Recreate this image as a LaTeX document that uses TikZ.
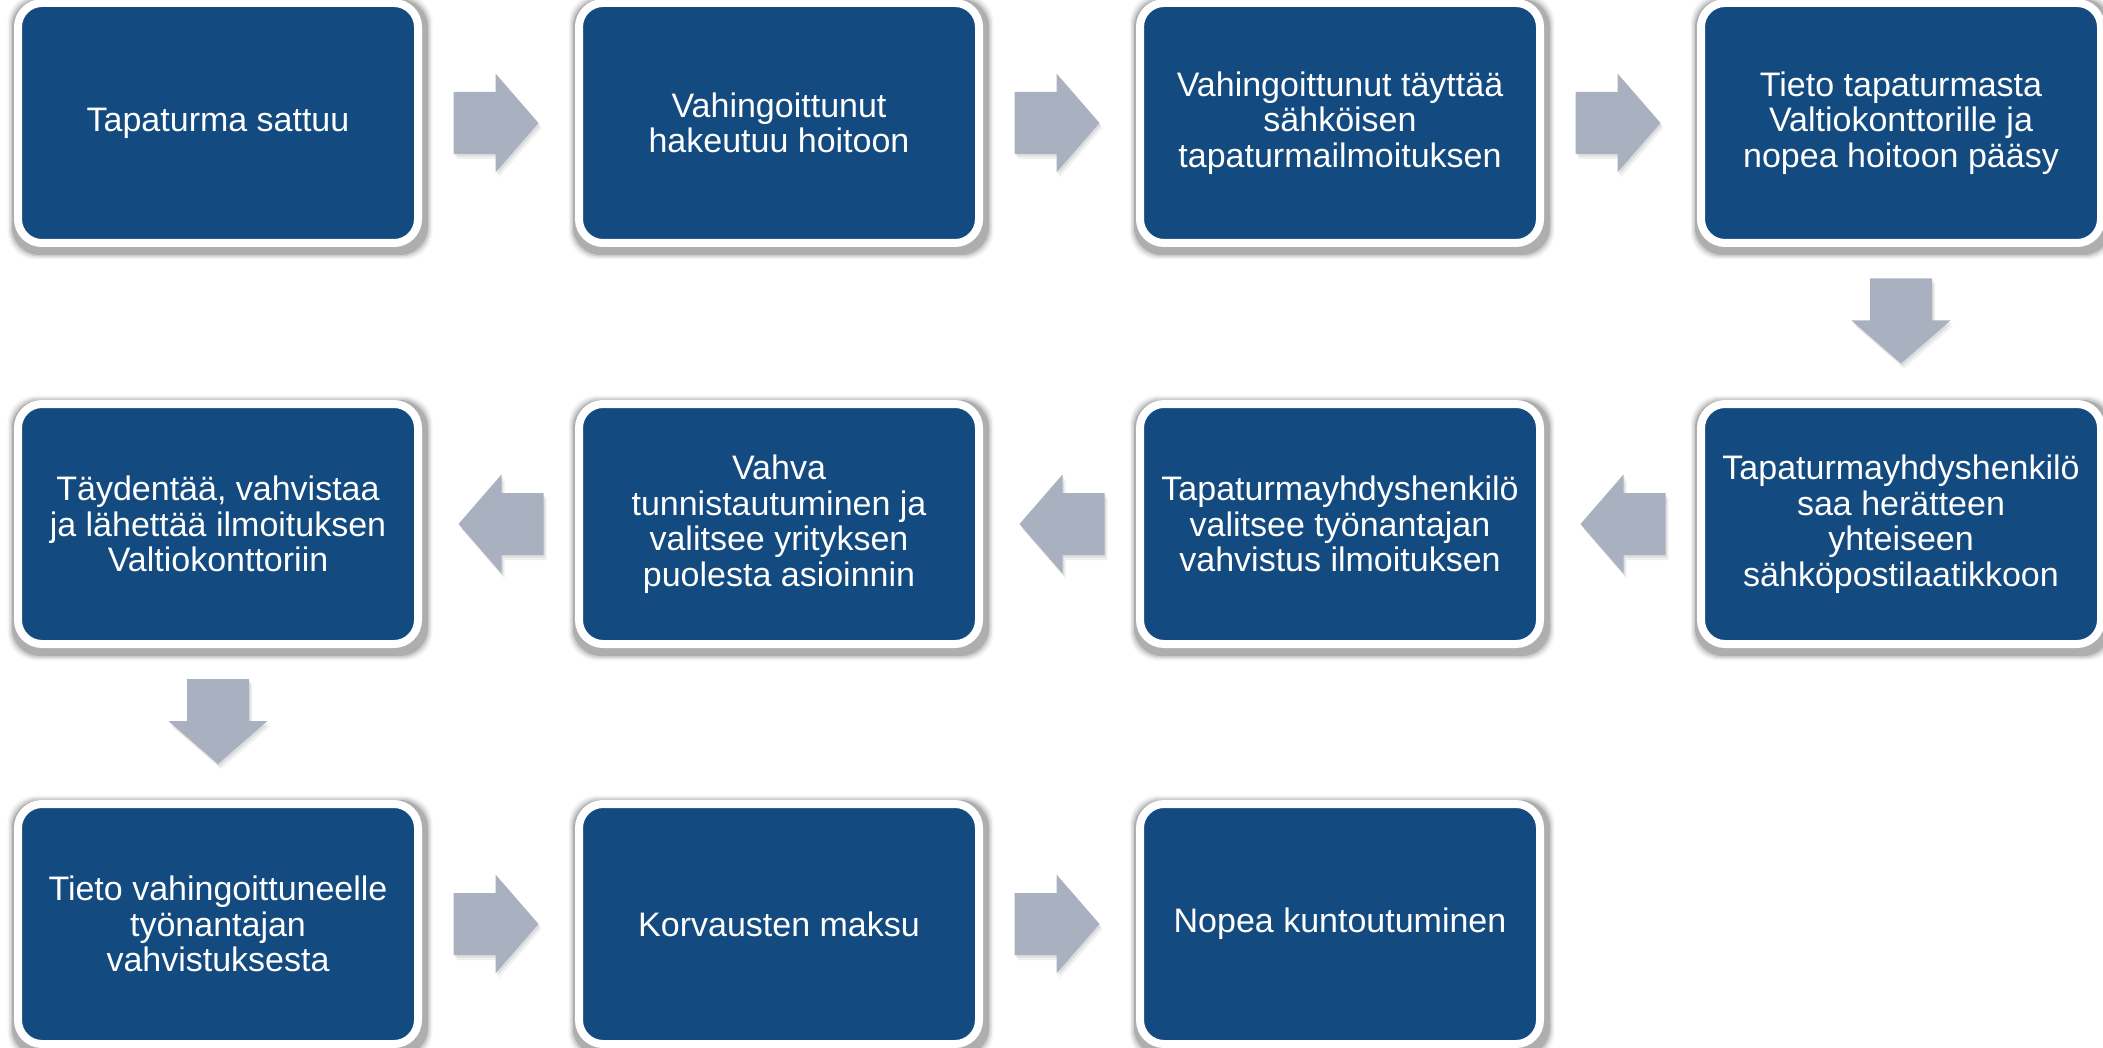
\documentclass[tikz,border=0pt]{standalone}
\usepackage{fontspec}
\setmainfont{Liberation Sans}
\usetikzlibrary{calc,backgrounds}
\definecolor{boxblue}{RGB}{19,74,128}
\definecolor{arrowgray}{RGB}{169,176,192}
\tikzset{
  stepbox/.style={draw=white, line width=8pt, fill=boxblue, rounded corners=24pt,
    minimum width=400pt, minimum height=240pt, inner sep=0pt, text=white,
    align=center, font=\fontsize{34}{35.5}\selectfont},
  barrowshape/.pic={\path[pic actions] (-45,-31) -- (-3,-31) -- (-3,-49.5) -- (40,0)
      -- (-3,49.5) -- (-3,31) -- (-45,31) -- cycle;},
}
\begin{document}
\begin{tikzpicture}[x=1pt,y=-1pt]
\useasboundingbox (0,0) rectangle (2103,1048);
% boxes
\node[stepbox] (b1) at (218,123) {Tapaturma sattuu};
\node[stepbox] (b2) at (779,123) {Vahingoittunut\\hakeutuu hoitoon};
\node[stepbox] (b3) at (1340,123) {Vahingoittunut täyttää\\sähköisen\\tapaturmailmoituksen};
\node[stepbox] (b4) at (1901,123) {Tieto tapaturmasta\\Valtiokonttorille ja\\nopea hoitoon pääsy};
\node[stepbox] (b5) at (1901,524) {Tapaturmayhdyshenkilö\\saa herätteen\\yhteiseen\\sähköpostilaatikkoon};
\node[stepbox] (b6) at (1340,524) {Tapaturmayhdyshenkilö\\valitsee työnantajan\\vahvistus ilmoituksen};
\node[stepbox] (b7) at (779,524) {Vahva\\tunnistautuminen ja\\valitsee yrityksen\\puolesta asioinnin};
\node[stepbox] (b8) at (218,524) {Täydentää, vahvistaa\\ja lähettää ilmoituksen\\Valtiokonttoriin};
\node[stepbox] (b9) at (218,924) {Tieto vahingoittuneelle\\työnantajan\\vahvistuksesta};
\node[stepbox] (b10) at (779,924) {Korvausten maksu};
\node[stepbox] (b11) at (1340,924) {Nopea kuntoutuminen};
% box shadows
\begin{scope}[on background layer]
\foreach \n in {b1,b2,b3,b4,b5,b6,b7,b8,b9,b10,b11} {
  \foreach \e/\o in {0/0.15,1.5/0.10,3/0.07,4.5/0.04} {
    \fill[black, opacity=\o, rounded corners=28pt]
      ($(\n.north west)+(-2-\e,0-\e)$) rectangle ($(\n.south east)+(6+\e,8+\e)$);
  }
}
\end{scope}
% block arrows between steps
\foreach \a/\b/\r in {b1/b2/0, b2/b3/0, b3/b4/0, b4/b5/-90, b5/b6/180, b6/b7/180, b7/b8/180, b8/b9/-90, b9/b10/0, b10/b11/0} {
  \coordinate (m) at ($(\a.center)!0.5!(\b.center)$);
  \pic[fill=black, opacity=0.06, rotate=\r] at ($(m)+(3,5)$) {barrowshape};
  \pic[fill=black, opacity=0.08, rotate=\r] at ($(m)+(1.5,2.5)$) {barrowshape};
  \pic[fill=arrowgray, rotate=\r] at (m) {barrowshape};
}
\end{tikzpicture}
\end{document}
